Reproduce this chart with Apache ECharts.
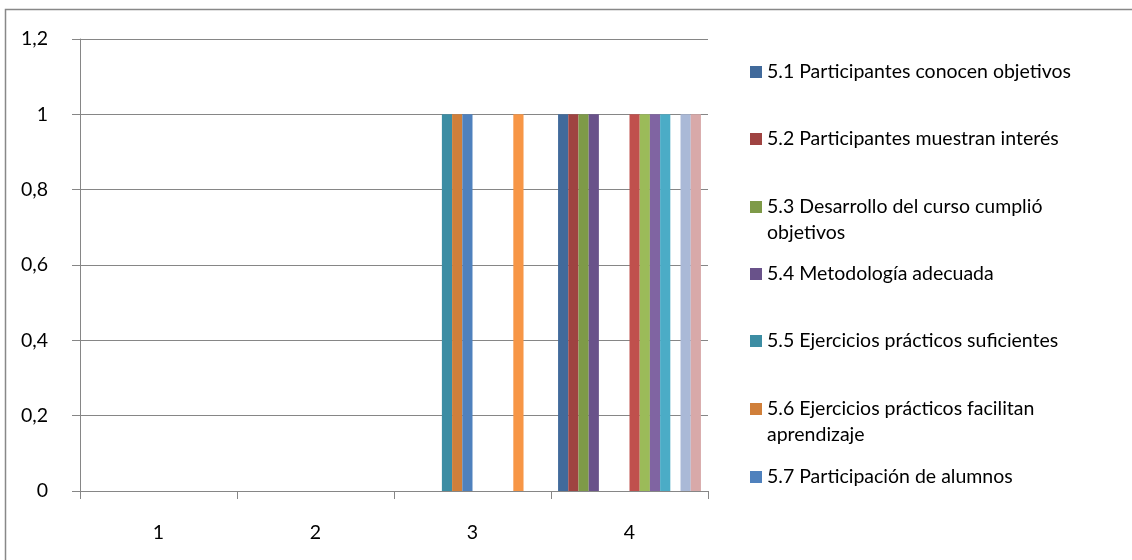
<!DOCTYPE html>
<html>
<head>
<meta charset="utf-8">
<script src="https://cdn.jsdelivr.net/npm/echarts@6/dist/echarts.min.js"></script>
<style>
html,body{margin:0;padding:0;background:#fff;}
#chart{width:1132px;height:560px;}
</style>
</head>
<body>
<div id="chart"></div>
<script>
const categories = ['1', '2', '3', '4'];
const yTicks = [0, 0.2, 0.4, 0.6, 0.8, 1, 1.2];
const seriesNames = [
  '5.1 Participantes conocen objetivos',
  '5.2 Participantes muestran interés',
  '5.3 Desarrollo del curso cumplió objetivos',
  '5.4 Metodología adecuada',
  '5.5 Ejercicios prácticos suficientes',
  '5.6 Ejercicios prácticos facilitan aprendizaje',
  '5.7 Participación de alumnos',
  'Serie8', 'Serie9', 'Serie10', 'Serie11', 'Serie12', 'Serie13', 'Serie14'
];
const s1 = [0, 0, 0, 1];
const s2 = [0, 0, 0, 1];
const s3 = [0, 0, 0, 1];
const s4 = [0, 0, 0, 1];
const s5 = [0, 0, 1, 0];
const s6 = [0, 0, 1, 0];
const s7 = [0, 0, 1, 0];
const s8 = [0, 0, 0, 1];
const s9 = [0, 0, 0, 1];
const s10 = [0, 0, 0, 1];
const s11 = [0, 0, 0, 1];
const s12 = [0, 0, 1, 0];
const s13 = [0, 0, 0, 1];
const s14 = [0, 0, 0, 1];
const seriesValues = [s1, s2, s3, s4, s5, s6, s7, s8, s9, s10, s11, s12, s13, s14];

const colors = ['#416A9B', '#9F4341', '#7E9A48', '#69528A', '#3C8DA3', '#D07F3A', '#4F81BD',
                '#C0504D', '#9BBB59', '#8064A2', '#4BACC6', '#F79646', '#AAB9D7', '#D8A9A9'];

const FONT = 'Lato';
const FS = 19.5;

// legend: first line centers (px)
const legendCenters = [72, 139, 207, 274, 341, 409, 477];
const wrapAt = {
  '5.3 Desarrollo del curso cumplió objetivos': '5.3 Desarrollo del curso cumplió\nobjetivos',
  '5.6 Ejercicios prácticos facilitan aprendizaje': '5.6 Ejercicios prácticos facilitan\naprendizaje'
};
const legends = seriesNames.slice(0, 7).map(function (name, i) {
  const wrapped = !!wrapAt[name];
  return {
    data: [name],
    orient: 'vertical',
    left: 750,
    top: wrapped ? legendCenters[i] - 39 : legendCenters[i] - 13,
    padding: 0,
    itemWidth: 12,
    itemHeight: 12,
    icon: 'rect',
    selectedMode: false,
    formatter: function (n) { return wrapAt[n] ? '\n' + wrapAt[n] : n; },
    textStyle: { fontFamily: FONT, fontSize: FS, color: '#000', lineHeight: 26 }
  };
});

const chart = echarts.init(document.getElementById('chart'), null, { renderer: 'canvas' });
chart.setOption({
  animation: false,
  backgroundColor: '#fff',
  color: colors,
  graphic: [{
    type: 'rect',
    shape: { x: 5.5, y: 9.5, width: 1300, height: 700 },
    style: { fill: 'none', stroke: '#888', lineWidth: 1.5 },
    silent: true
  }],
  legend: legends,
  grid: { left: 80, right: 424, top: 39, bottom: 69, containLabel: false },
  xAxis: {
    type: 'category',
    data: categories,
    axisLine: { lineStyle: { color: '#868686', width: 1 } },
    axisTick: { show: true, length: 8, lineStyle: { color: '#868686' } },
    axisLabel: { fontFamily: FONT, fontSize: FS, color: '#000', margin: 32 }
  },
  yAxis: {
    type: 'value',
    min: yTicks[0],
    max: yTicks[yTicks.length - 1],
    interval: 0.2,
    axisLine: { show: true, lineStyle: { color: '#868686', width: 1 } },
    axisTick: { show: true, length: 8, lineStyle: { color: '#868686' } },
    splitLine: { lineStyle: { color: '#868686', width: 1 } },
    axisLabel: {
      fontFamily: FONT, fontSize: FS, color: '#000', margin: 32,
      formatter: function (v) { return String(Math.round(v * 10) / 10).replace('.', ','); }
    }
  },
  series: seriesNames.map(function (name, i) {
    return {
      name: name,
      type: 'bar',
      data: seriesValues[i],
      barGap: '0%',
      barCategoryGap: '9%',
      itemStyle: { color: colors[i] }
    };
  })
});
</script>
</body>
</html>
